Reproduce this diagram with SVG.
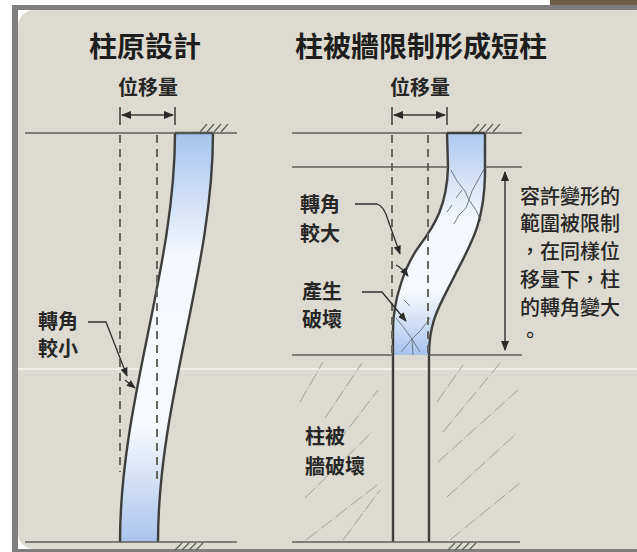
<svg xmlns="http://www.w3.org/2000/svg" width="637" height="552" viewBox="0 0 637 552">
  <style>
    .title { font-family: "Noto Sans CJK TC", "Noto Sans CJK SC", sans-serif; font-size: 28px; font-weight: 700; fill: #1e1e1e; }
    .label { font-family: "Noto Sans CJK TC", "Noto Sans CJK SC", sans-serif; font-size: 20px; font-weight: 700; fill: #262626; }
    .note { font-family: "Noto Sans CJK TC", "Noto Sans CJK SC", sans-serif; font-size: 20px; font-weight: 500; fill: #262626; }
    .ground { stroke: #5e5e58; stroke-width: 1.6; fill: none; }
    .hatch { stroke: #5e5e58; stroke-width: 1.2; fill: none; }
    .dash { stroke: #66665e; stroke-width: 2; stroke-dasharray: 8 6; fill: none; }
    .edge { stroke: #3e3e3c; stroke-width: 2.4; }
    .crack { stroke: #6f7a86; stroke-width: 1; fill: none; }
    .wall { stroke: #9a9a90; stroke-width: 0.9; stroke-dasharray: 14 2 1 2; fill: none; }
    .lead { stroke: #2e2e2e; stroke-width: 1.3; fill: none; }
    .dim { stroke: #3a3a3a; stroke-width: 1.5; fill: none; }
  </style>
  <defs>
    <marker id="arr" viewBox="0 0 10 10" refX="9" refY="5" markerWidth="7" markerHeight="7" orient="auto-start-reverse">
      <path d="M0,1 L10,5 L0,9 Z" fill="#2a2a2a"/>
    </marker>
    <linearGradient id="fillLeft" x1="0" y1="133" x2="0" y2="542" gradientUnits="userSpaceOnUse">
      <stop offset="0" stop-color="#a6c4ee"/>
      <stop offset="0.3" stop-color="#f4f8fd"/>
      <stop offset="0.72" stop-color="#f6f9fd"/>
      <stop offset="1" stop-color="#a9c4ec"/>
    </linearGradient>
    <linearGradient id="fillRight" x1="0" y1="133" x2="0" y2="355" gradientUnits="userSpaceOnUse">
      <stop offset="0" stop-color="#aec9ef"/>
      <stop offset="0.38" stop-color="#f3f7fc"/>
      <stop offset="0.72" stop-color="#f5f8fc"/>
      <stop offset="1" stop-color="#a7c3ee"/>
    </linearGradient>
  </defs>

  <!-- page and frame -->
  <rect x="0" y="0" width="637" height="552" fill="#ffffff"/>
  <rect x="550" y="0" width="87" height="7" fill="#6c5f47"/>
  <rect x="12" y="5" width="625" height="547" fill="#7f7f7d"/>
  <rect x="18" y="10" width="619" height="539" fill="#ffffff"/>
  <rect x="18" y="10" width="632" height="539" rx="16" fill="#dddbd1"/>
  <line x1="18" y1="369" x2="637" y2="369" stroke="#f6f5f0" stroke-width="1.6"/>

  <!-- headings -->
  <g id="title-left">
    <text class="title" x="145" y="57" text-anchor="middle">柱原設計</text>
  </g>
  <g id="title-right">
    <text class="title" x="421" y="57" text-anchor="middle">柱被牆限制形成短柱</text>
  </g>

  <!-- wall hatching beside the short column -->
  <g id="wall-hatch">
    <path class="wall" d="M300,402 L323,362 M325,418 L362,363 M338,442 L378,390 M305,498 L372,432 M306,540 L377,485 M343,540 L380,490"/>
    <path class="wall" d="M437,402 L463,365 M443,432 L500,363 M438,462 L518,390 M447,497 L517,433 M450,540 L520,483"/>
  </g>

  <!-- original column -->
  <g id="column-original">
    <path d="M175,133 C175,270 120,400 120,542 L158,542 C158,400 213,270 213,133 Z" fill="url(#fillLeft)"/>
    <path class="edge" fill="none" d="M175,133 C175,270 120,400 120,542"/>
    <path class="edge" fill="none" d="M213,133 C213,270 158,400 158,542"/>
    <line class="edge" x1="175" y1="133" x2="213" y2="133"/>
    <line class="dash" x1="120" y1="135" x2="120" y2="472"/>
    <line class="dash" x1="157" y1="135" x2="157" y2="480"/>
    <line class="ground" x1="25" y1="133" x2="237" y2="133"/>
    <line class="ground" x1="25" y1="542" x2="237" y2="542"/>
    <path class="hatch" d="M200,132 L207,124 M207,132 L214,124 M214,132 L221,124 M221,132 L228,124"/>
    <path class="hatch" d="M175,550 L182,543 M182,550 L189,543 M189,550 L196,543 M196,550 L203,543"/>
  </g>

  <!-- short column restrained by walls -->
  <g id="column-short">
    <path d="M447,133 L448,167 C447,205 435,225 420,245 C405,265 393,300 393,330 L393,355 L429,355 C429,320 440,305 455,275 C470,245 484,225 485,175 L485,133 Z" fill="url(#fillRight)"/>
    <path class="crack" d="M451,170 L457,181 L465,191 L469,200 L466,208 L459,215 L454,224"/>
    <path class="crack" d="M484,169 L478,180 L472,191 L469,200 L476,210 L481,221"/>
    <path class="crack" d="M462,190 L456,198 M447,212 L452,205"/>
    <path class="crack" d="M396,318 L404,328 L412,339 L420,352"/>
    <path class="crack" d="M430,318 L421,330 L412,339 L401,352"/>
    <path class="crack" d="M404,300 L410,306 M412,339 L413,355"/>
    <path class="edge" fill="none" d="M447,133 L448,167 C447,205 435,225 420,245 C405,265 393,300 393,330 L393,542"/>
    <path class="edge" fill="none" d="M485,133 L485,175 C484,225 470,245 455,275 C440,305 429,320 429,355 L429,542"/>
    <line class="edge" x1="447" y1="133" x2="485" y2="133"/>
    <line class="dash" x1="392" y1="135" x2="392" y2="355"/>
    <line class="dash" x1="428" y1="135" x2="428" y2="355"/>
    <line class="ground" x1="292" y1="133" x2="447" y2="133"/>
    <line class="ground" x1="485" y1="133" x2="522" y2="133"/>
    <line class="ground" x1="292" y1="167" x2="448" y2="167"/>
    <line class="ground" x1="485" y1="167" x2="522" y2="167"/>
    <line class="ground" x1="292" y1="355" x2="393" y2="355"/>
    <line class="ground" x1="429" y1="355" x2="522" y2="355"/>
    <line class="ground" x1="292" y1="542" x2="520" y2="542"/>
    <path class="hatch" d="M472,132 L479,124 M479,132 L486,124 M486,132 L493,124 M493,132 L500,124"/>
    <path class="hatch" d="M448,550 L455,543 M455,550 L462,543 M462,550 L469,543 M469,550 L476,543"/>
  </g>

  <!-- displacement dimensions and labels -->
  <g id="disp-left">
    <text class="label" x="148" y="95" text-anchor="middle">位移量</text>
    <line class="dim" x1="120" y1="107" x2="120" y2="125"/>
    <line class="dim" x1="175" y1="107" x2="175" y2="125"/>
    <line class="dim" x1="122" y1="115" x2="173" y2="115" marker-start="url(#arr)" marker-end="url(#arr)"/>
  </g>
  <g id="disp-right">
    <text class="label" x="420" y="95" text-anchor="middle">位移量</text>
    <line class="dim" x1="392" y1="107" x2="392" y2="125"/>
    <line class="dim" x1="447" y1="107" x2="447" y2="125"/>
    <line class="dim" x1="394" y1="115" x2="445" y2="115" marker-start="url(#arr)" marker-end="url(#arr)"/>
  </g>

  <!-- annotations -->
  <g id="note-small-rotation">
    <text class="label" x="38" y="329">轉角</text>
    <text class="label" x="38" y="356">較小</text>
  </g>
  <g id="note-large-rotation">
    <text class="label" x="300" y="212">轉角</text>
    <text class="label" x="300" y="241">較大</text>
  </g>
  <g id="note-damage">
    <text class="label" x="302" y="299">產生</text>
    <text class="label" x="302" y="327">破壞</text>
  </g>
  <g id="note-wall">
    <text class="label" x="305" y="444">柱被</text>
    <text class="label" x="305" y="474">牆破壞</text>
  </g>
  <g id="note-range">
    <text class="note" x="520" y="204">容許變形的</text>
    <text class="note" x="520" y="231">範圍被限制</text>
    <text class="note" x="520" y="259">，在同樣位</text>
    <text class="note" x="520" y="287">移量下，柱</text>
    <text class="note" x="520" y="315">的轉角變大</text>
    <text class="note" x="520" y="343">。</text>
  </g>

  <!-- connectors -->
  <g id="connectors">
    <path class="lead" d="M88,322 L106,322 L127,376" marker-end="url(#arr)"/>
    <path class="lead" d="M125,380 L135,388" marker-end="url(#arr)"/>
    <path class="lead" d="M355,204 L377,204 Q384,206 388,220 L400,254" marker-end="url(#arr)"/>
    <path class="lead" d="M396,265 Q402,268 408,276" marker-end="url(#arr)"/>
    <path class="lead" d="M362,292 L382,292 L406,321" marker-end="url(#arr)"/>
    <line class="dim" x1="505" y1="172" x2="505" y2="350" marker-start="url(#arr)" marker-end="url(#arr)"/>
  </g>
</svg>
